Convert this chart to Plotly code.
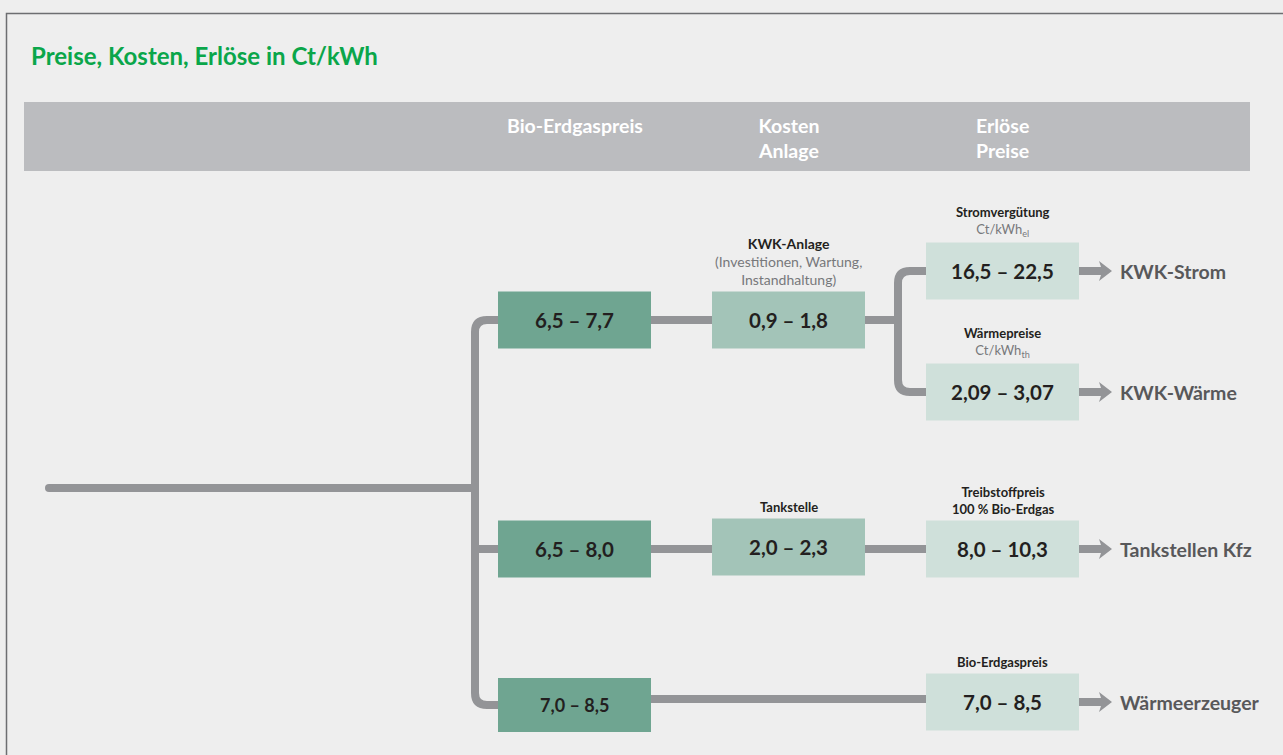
import plotly.graph_objects as go

# values shown in the boxes (Ct/kWh)
gas_price = ["6,5 – 7,7", "6,5 – 8,0", "7,0 – 8,5"]
plant_cost = ["0,9 – 1,8", "2,0 – 2,3"]
plant_label = ["<b>KWK-Anlage</b><br><span style='color:#77787b'>(Investitionen, Wartung,<br>Instandhaltung)</span>",
               "<b>Tankstelle</b>"]
revenue = ["16,5 – 22,5", "2,09 – 3,07", "8,0 – 10,3", "7,0 – 8,5"]
revenue_label = ["<b>Stromvergütung</b><br><span style='color:#77787b'>Ct/kWh<sub>el</sub></span>",
                 "<b>Wärmepreise</b><br><span style='color:#77787b'>Ct/kWh<sub>th</sub></span>",
                 "<b>Treibstoffpreis<br>100 % Bio-Erdgas</b>",
                 "<b>Bio-Erdgaspreis</b>"]
end_use = ["KWK-Strom", "KWK-Wärme", "Tankstellen Kfz", "Wärmeerzeuger"]
columns = ["Bio-Erdgaspreis", "Kosten<br>Anlage", "Erlöse<br>Preise"]

# layout (pixel positions of the diagram)
W, H = 1283, 755
col_x = [574.5, 788.5, 1002.5]
box_w = 153
gas_y = [320, 549, 705]
cost_y = [320, 547]
rev_y = [271, 392, 549, 702]

DARK = "#6fa591"
MID = "#a3c4b8"
LIGHT = "#cfe0da"
LINE = "#939497"
TXT = "#231f20"
FONT = "Lato"

shapes = []
annotations = []

# outer border + header band
shapes.append(dict(type="rect", x0=6.5, y0=13.5, x1=W + 10, y1=H + 10,
                   line=dict(color="#6d6e71", width=1.5), fillcolor="#eeeeee", layer="below"))
shapes.append(dict(type="rect", x0=24, y0=102, x1=1250, y1=171,
                   line=dict(width=0), fillcolor="#bbbcbf", layer="below"))

annotations.append(dict(x=29, y=55, text="<b>Preise, Kosten, Erlöse in Ct/kWh</b>",
                        xanchor="left", yanchor="middle", showarrow=False,
                        font=dict(family=FONT, size=24, color="#0aa64a")))
for cx, lab in zip(col_x, columns):
    annotations.append(dict(x=cx, y=112, text="<b>" + lab + "</b>", xanchor="center", yanchor="top",
                            showarrow=False, font=dict(family=FONT, size=19.5, color="white")))

# connecting lines
def line(path):
    shapes.append(dict(type="path", path=path, line=dict(color=LINE, width=8), layer="below"))

line("M 49 488 L 475 488")
shapes.append(dict(type="circle", x0=45, x1=53, y0=484, y1=492, fillcolor=LINE,
                   line=dict(width=0), layer="below"))
line(f"M 498 {gas_y[0]} L 487 {gas_y[0]} Q 475 {gas_y[0]} 475 {gas_y[0]+12} "
     f"L 475 {gas_y[2]-12} Q 475 {gas_y[2]} 487 {gas_y[2]} L 498 {gas_y[2]}")
line(f"M 475 {gas_y[1]} L 498 {gas_y[1]}")
line(f"M 651 {gas_y[0]} L 712 {gas_y[0]}")
line(f"M 865 {gas_y[0]} L 898 {gas_y[0]}")
line(f"M 926 {rev_y[0]} L 910 {rev_y[0]} Q 898 {rev_y[0]} 898 {rev_y[0]+12} "
     f"L 898 {rev_y[1]-12} Q 898 {rev_y[1]} 910 {rev_y[1]} L 926 {rev_y[1]}")
line(f"M 651 {gas_y[1]} L 712 {gas_y[1]}")
line(f"M 865 {gas_y[1]} L 926 {gas_y[1]}")
line(f"M 651 {gas_y[2]-6} L 926 {gas_y[2]-6}")


def box(cx, cy, txt, color, size=20.5, h=57):
    shapes.append(dict(type="rect", x0=cx - box_w / 2, x1=cx + box_w / 2, y0=cy - h / 2, y1=cy + h / 2,
                       line=dict(width=0), fillcolor=color, layer="above"))
    annotations.append(dict(x=cx, y=cy, text="<b>" + txt + "</b>", showarrow=False,
                            xanchor="center", yanchor="middle",
                            font=dict(family=FONT, size=size, color=TXT)))


def label(cx, ybottom, txt, size=13):
    annotations.append(dict(x=cx, y=ybottom, text=txt, showarrow=False, xanchor="center",
                            yanchor="bottom", font=dict(family=FONT, size=size, color=TXT)))


# first column: gas price
for i, v in enumerate(gas_price):
    if i == 2:
        box(col_x[0], gas_y[i], v, DARK, size=18, h=54)
    else:
        box(col_x[0], gas_y[i], v, DARK)

# second column: plant costs
for i, v in enumerate(plant_cost):
    box(col_x[1], cost_y[i], v, MID)
    label(col_x[1], cost_y[i] - 30, plant_label[i], size=14 if i == 0 else 13)

# third column: revenues + arrows to end use
for i, v in enumerate(revenue):
    box(col_x[2], rev_y[i], v, LIGHT)
    label(col_x[2], rev_y[i] - 30, revenue_label[i])
    y = rev_y[i]
    shapes.append(dict(type="path", path=f"M 1079 {y-4} L 1101 {y-4} L 1099 {y-10} L 1112 {y} "
                                         f"L 1099 {y+10} L 1101 {y+4} L 1079 {y+4} Z",
                       fillcolor=LINE, line=dict(width=0)))
    annotations.append(dict(x=1118, y=y, text="<b>" + end_use[i] + "</b>", showarrow=False,
                            xanchor="left", yanchor="middle",
                            font=dict(family=FONT, size=19.5, color="#58585a")))

fig = go.Figure()
fig.update_layout(
    width=W, height=H,
    margin=dict(l=0, r=0, t=0, b=0),
    paper_bgcolor="#eeeeee", plot_bgcolor="#eeeeee",
    xaxis=dict(range=[0, W], visible=False, fixedrange=True),
    yaxis=dict(range=[H, 0], visible=False, fixedrange=True),
    shapes=shapes, annotations=annotations, showlegend=False,
)
fig.write_html("out.html", config={"displayModeBar": False},
               post_script="document.body.style.margin='0';document.body.style.overflow='hidden';"
                           "document.body.style.background='#eeeeee';")
